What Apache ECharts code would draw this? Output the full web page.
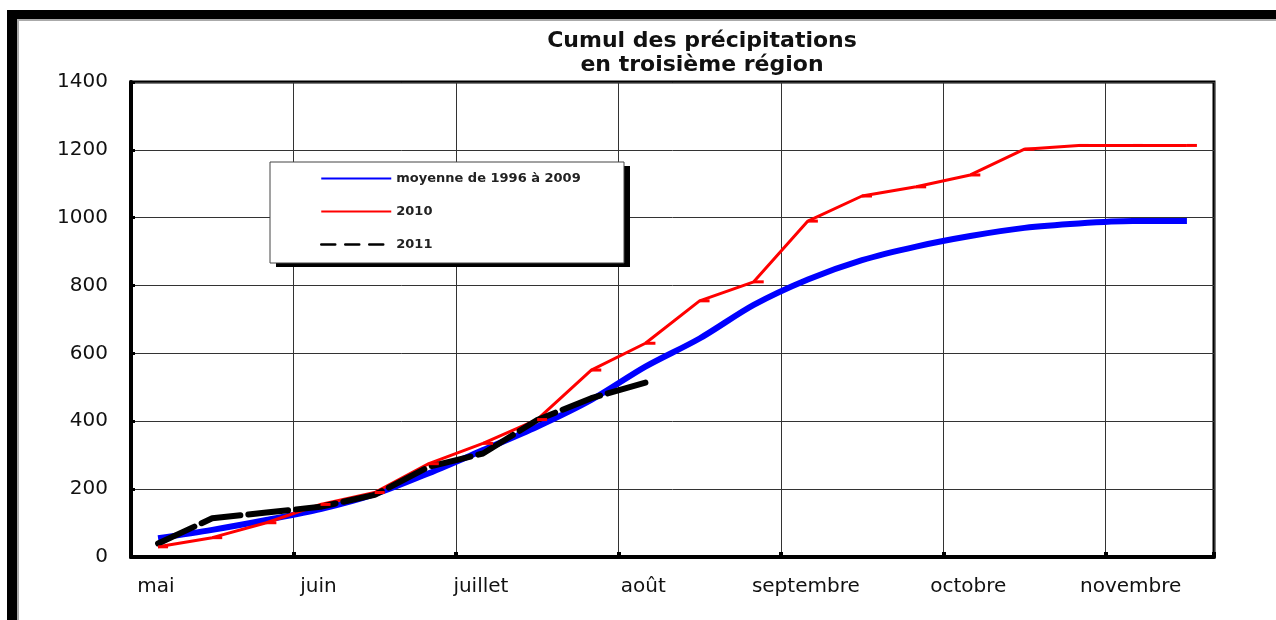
<!DOCTYPE html>
<html>
<head>
  <meta charset="utf-8">
  <title>Cumul des précipitations</title>
  <script src="https://cdn.jsdelivr.net/npm/echarts@6/dist/echarts.min.js"></script>
  <style>
    html, body {
      margin: 0;
      padding: 0;
      background: #fff;
    }
    #frame {
      position: absolute;
      left: 7px;
      top: 10px;
      width: 1269px;
      height: 610px;
      border-top: 9px solid #000;
      border-left: 10px solid #000;
      box-sizing: border-box;
      box-shadow: inset 2px 2px 0 #aaa;
    }
    #chart {
      position: absolute;
      left: 0;
      top: 0;
      width: 1276px;
      height: 620px;
    }
  </style>
</head>
<body>
  <div id="frame"></div>
  <div id="chart"></div>

  <script>
    // mois affichés sous l'axe (un mois = 3 décades)
    var months = ['mai', 'juin', 'juillet', 'août', 'septembre', 'octobre', 'novembre']
    var yTicks = [0, 200, 400, 600, 800, 1000, 1200, 1400]

    // cumul par décade (mm)
    var moyenne = [55, 80, 109, 141, 185, 247, 315, 384, 463, 561,
      644, 743, 818, 875, 915, 946, 970, 983, 990, 990]
    var annee2010 = [30, 57, 101, 155, 190, 275, 335, 405, 551, 630,
      755, 811, 990, 1064, 1091, 1126, 1202, 1213, 1213, 1213]
    var annee2011 = [40, 114, 131, 148, 183, 266, 305, 404, 468, 514]

    var font = 'DejaVu Sans'

    // une décade = 1 unité, point au milieu de la décade
    function toPoints(values) {
      return values.map(function (v, i) {
        return [i + 0.5, v]
      })
    }

    var chart = echarts.init(document.getElementById('chart'))

    chart.setOption({
      animation: false,
      title: {
        text: 'Cumul des précipitations\nen troisième région',
        left: 697,
        top: 24,
        textAlign: 'center',
        textStyle: {
          fontFamily: font,
          fontWeight: 'bold',
          fontSize: 22,
          lineHeight: 24,
          color: '#111'
        }
      },
      // cadre de la légende : ombre noire puis boîte blanche
      graphic: [{
          type: 'rect',
          z: 3,
          shape: { x: 276, y: 166, width: 354, height: 101 },
          style: { fill: '#000' }
        },
        {
          type: 'rect',
          z: 3,
          shape: { x: 270, y: 162, width: 354, height: 101 },
          style: { fill: '#fff', stroke: '#444', lineWidth: 1 }
        }
      ],
      legend: {
        orient: 'vertical',
        left: 270,
        top: 162,
        z: 5,
        padding: [10, 48, 9, 50],
        itemWidth: 70,
        itemHeight: 14,
        itemGap: 20,
        textStyle: {
          fontFamily: font,
          fontWeight: 'bold',
          fontSize: 13,
          color: '#222'
        },
        data: [
          { name: 'moyenne de 1996 à 2009', lineStyle: { width: 2 }, itemStyle: { opacity: 0 } },
          { name: '2010', lineStyle: { width: 2 }, itemStyle: { opacity: 0 } },
          { name: '2011', lineStyle: { width: 2.5, type: [14, 10] }, itemStyle: { opacity: 0 } }
        ]
      },
      grid: {
        left: 131,
        right: 62,
        top: 82,
        bottom: 63,
        show: true,
        borderColor: '#000',
        borderWidth: 3
      },
      xAxis: {
        type: 'value',
        min: 0,
        max: 20,
        interval: 3,
        axisLine: {
          lineStyle: { color: '#000', width: 4 }
        },
        axisTick: {
          inside: true,
          length: 5,
          lineStyle: { color: '#000', width: 4 }
        },
        splitLine: {
          lineStyle: { color: '#333', width: 1 }
        },
        axisLabel: {
          margin: 20,
          padding: [0, 0, 0, 50],
          fontFamily: font,
          fontSize: 20,
          color: '#111',
          formatter: function (v) {
            if (v % 3 !== 0) return ''
            return months[v / 3] || ''
          }
        }
      },
      yAxis: {
        type: 'value',
        min: yTicks[0],
        max: yTicks[yTicks.length - 1],
        interval: yTicks[1] - yTicks[0],
        axisLine: {
          lineStyle: { color: '#000', width: 4 }
        },
        axisTick: {
          inside: true,
          length: 4,
          lineStyle: { color: '#000', width: 3 }
        },
        splitLine: {
          lineStyle: { color: '#333', width: 1 }
        },
        axisLabel: {
          margin: 23,
          fontFamily: font,
          fontSize: 20,
          color: '#111',
          formatter: function (v) {
            return String(v)
          }
        }
      },
      series: [{
          name: 'moyenne de 1996 à 2009',
          type: 'line',
          smooth: 0.3,
          symbol: 'none',
          lineStyle: { color: '#0000ff', width: 6 },
          itemStyle: { color: '#0000ff' },
          data: toPoints(moyenne)
        },
        {
          name: '2010',
          type: 'line',
          symbol: 'rect',
          symbolSize: [10, 3],
          symbolOffset: [5, 0],
          lineStyle: { color: '#ff0000', width: 3 },
          itemStyle: { color: '#ff0000' },
          data: toPoints(annee2010)
        },
        {
          name: '2011',
          type: 'line',
          symbol: 'none',
          lineStyle: { color: '#000', width: 6, type: [40, 8], cap: 'round' },
          itemStyle: { color: '#000' },
          data: toPoints(annee2011)
        }
      ]
    })
  </script>
</body>
</html>
